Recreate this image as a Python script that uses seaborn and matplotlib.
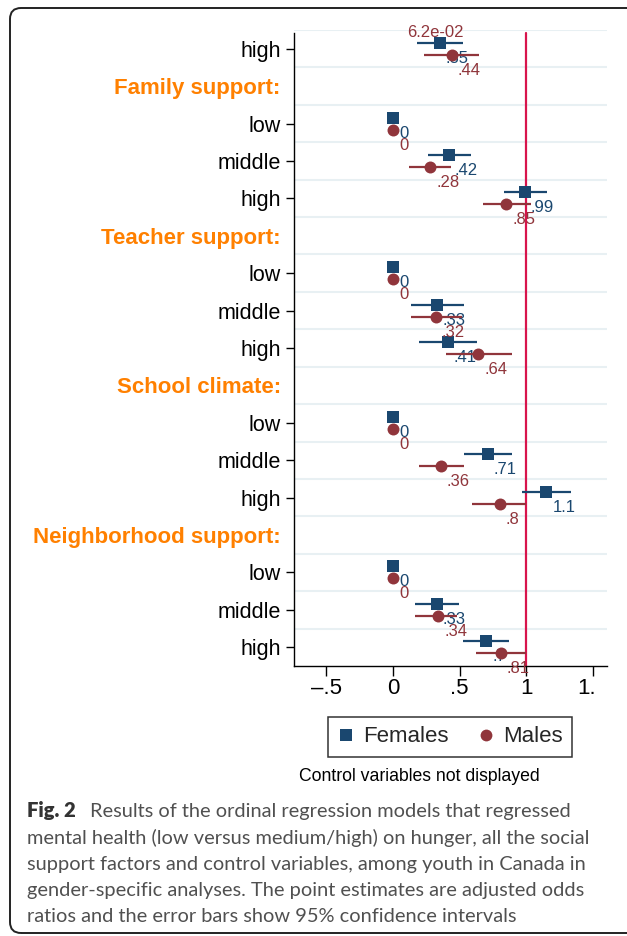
import numpy as np
import pandas as pd
import matplotlib
matplotlib.use("Agg")
import matplotlib.pyplot as plt
import seaborn as sns
from matplotlib.lines import Line2D
from matplotlib.patches import FancyBboxPatch
from matplotlib.transforms import IdentityTransform, Bbox, TransformedBbox

nan = np.nan

# rows from top to bottom; the first one is cut off by the top of the figure
rows = ["middle", "high", "Family support:", "low", "middle", "high",
        "Teacher support:", "low", "middle", "high",
        "School climate:", "low", "middle", "high",
        "Neighborhood support:", "low", "middle", "high"]

female_est = [nan, 0.35, nan, 0, 0.42, 0.99, nan, 0, 0.33, 0.41, nan, 0, 0.71, 1.15, nan, 0, 0.33, 0.70]
female_lo = [nan, 0.18, nan, nan, 0.26, 0.83, nan, nan, 0.135, 0.195, nan, nan, 0.53, 0.97, nan, nan, 0.165, 0.525]
female_hi = [nan, 0.525, nan, nan, 0.585, 1.155, nan, nan, 0.53, 0.63, nan, nan, 0.89, 1.335, nan, nan, 0.495, 0.87]
female_lab = ["", ".35", "", "0", ".42", ".99", "", "0", ".33", ".41", "", "0", ".71", "1.1", "", "0", ".33", ".7"]

male_est = [0.062, 0.44, nan, 0, 0.28, 0.85, nan, 0, 0.32, 0.64, nan, 0, 0.36, 0.80, nan, 0, 0.34, 0.81]
male_lo = [nan, 0.23, nan, nan, 0.12, 0.675, nan, nan, 0.135, 0.40, nan, nan, 0.195, 0.59, nan, nan, 0.165, 0.62]
male_hi = [nan, 0.645, nan, nan, 0.435, 1.035, nan, nan, 0.52, 0.895, nan, nan, 0.535, 1.0, nan, nan, 0.48, 1.0]
male_lab = ["6.2e-02", ".44", "", "0", ".28", ".85", "", "0", ".32", ".64", "", "0", ".36", ".8", "", "0", ".34", ".81"]

xticks = [-0.5, 0, 0.5, 1, 1.5]
xticklabels = ["\u2013.5", "0", ".5", "1", "1.5"]

caption = ["Results of the ordinal regression models that regressed",
           "mental health (low versus medium/high) on hunger, all the social",
           "support factors and control variables, among youth in Canada in",
           "gender-specific analyses. The point estimates are adjusted odds",
           "ratios and the error bars show 95% confidence intervals"]

navy = "#1a476f"
maroon = "#90353b"
orange = "#ff8000"
red = "#d8144c"
gridc = "#e8f0f3"

sns.set_theme(style="white")
plt.rcParams['font.family'] = ['Liberation Sans', 'DejaVu Sans']

pos = np.arange(len(rows)) - 1
df = pd.DataFrame({"row": rows, "pos": pos,
                   "f_est": female_est, "f_lo": female_lo, "f_hi": female_hi, "f_lab": female_lab,
                   "m_est": male_est, "m_lo": male_lo, "m_hi": male_hi, "m_lab": male_lab})

W, H = 627, 936
fig = plt.figure(figsize=(W / 100, H / 100), dpi=100)
ax = fig.add_axes([294 / W, 1 - 666 / H, (607 - 294) / W, (666 - 30) / H])

for g in np.arange(-0.5, 16, 1):
    ax.axhline(g, color=gridc, lw=1.5, zorder=0)
ax.axvline(1, ymin=0, ymax=1 - 0.08 / 17, color=red, lw=1.6, zorder=1.5)

off = 0.16
series = [("f", -off, navy, "s", 2), ("m", off, maroon, "o", 5)]
for key, dy, col, mk, z in series:
    y = df["pos"] + dy
    ax.hlines(y, df[key + "_lo"], df[key + "_hi"], color=col, lw=1.6, zorder=z)
    sns.scatterplot(x=df[key + "_est"], y=y, marker=mk, s=74, color=col,
                    linewidth=0, ax=ax, zorder=z + 1, legend=False)
    for xv, yv, lab in zip(df[key + "_est"], y, df[key + "_lab"]):
        if lab == "" or np.isnan(xv):
            continue
        ax.annotate(lab, (xv, yv), xytext=(4.3, -14.4), textcoords="offset points",
                    ha="left", va="baseline", fontsize=12, color=col,
                    annotation_clip=False, zorder=z + 1.5)

ax.set_xlim(-0.7425, 1.605)
ax.set_ylim(16.5, -0.5)
ax.set_xlabel("")
ax.set_ylabel("")

vis = df[df["pos"] >= 0]
ax.set_yticks(vis["pos"])
ax.set_yticklabels(vis["row"])
ax.set_xticks(xticks)
ax.set_xticklabels(xticklabels)

for sp in ["top", "right"]:
    ax.spines[sp].set_visible(False)
for sp in ["left", "bottom"]:
    ax.spines[sp].set_color("black")
    ax.spines[sp].set_linewidth(1.0)
ax.spines["left"].set_bounds(16.5, -0.42)

ax.tick_params(axis="y", direction="out", length=6, width=1, pad=3.5,
               labelsize=15.5, color="black", labelcolor="black", left=True)
ax.tick_params(axis="x", direction="out", length=7, width=1, pad=1.5,
               labelsize=16, color="black", labelcolor="black", bottom=True)

for tick, hdr in zip(ax.yaxis.get_major_ticks(), vis["row"].str.endswith(":")):
    if hdr:
        tick.tick1line.set_visible(False)
        tick.label1.set_color(orange)
        tick.label1.set_fontweight("bold")
        tick.label1.set_fontsize(16)

# the rightmost tick label is cut off in the original picture
clip = TransformedBbox(Bbox([[0, 0], [595 / W, 1]]), fig.transFigure)
for lab in ax.get_xticklabels():
    lab.set_clip_box(clip)
    lab.set_clip_on(True)

handles = [Line2D([], [], marker="s", ls="", color=navy, markersize=8.5, markeredgewidth=0),
           Line2D([], [], marker="o", ls="", color=maroon, markersize=8.5, markeredgewidth=0)]
leg = fig.legend(handles, ["Females", "Males"], loc="center", ncol=2,
                 bbox_to_anchor=(450 / W, 1 - 737 / H), fontsize=16, frameon=True,
                 fancybox=False, edgecolor="black", borderpad=0.42, handlelength=0.8,
                 handletextpad=0.4, columnspacing=1.25)
leg.get_frame().set_linewidth(1.1)

fig.text(419 / W, 1 - 781 / H, "Control variables not displayed", ha="center",
         va="baseline", fontsize=12.7, color="black")

cap_font = ["Lato", "DejaVu Sans"]
base = [817, 844, 870, 896, 922]
fig.text(27 / W, 1 - base[0] / H, "Fig. 2", ha="left", va="baseline", fontsize=14.6,
         fontweight="heavy", color="#333333", family=cap_font)
for i, (line, b) in enumerate(zip(caption, base)):
    x0 = 90 if i == 0 else 27
    fig.text(x0 / W, 1 - b / H, line, ha="left", va="baseline", fontsize=14.4,
             color="#505050", family=cap_font)

frame = FancyBboxPatch((10, H - 933), 700, 925, boxstyle="round,pad=0,rounding_size=11",
                       transform=IdentityTransform(), fill=False, lw=1.4, edgecolor="#222222")
fig.add_artist(frame)

fig.savefig("out.png", dpi=100, facecolor="white")
